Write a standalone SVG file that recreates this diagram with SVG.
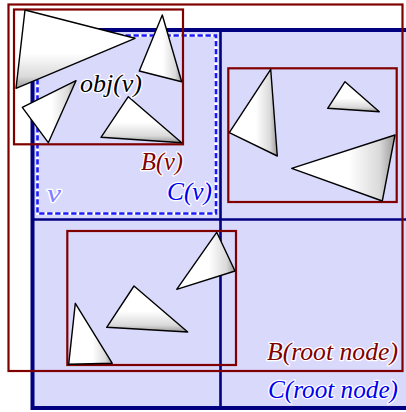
<svg xmlns="http://www.w3.org/2000/svg" width="406" height="412" viewBox="0 0 406 412">
<defs>
<linearGradient id="gh" x1="0" y1="0" x2="1" y2="0">
<stop offset="0" stop-color="#ffffff"/><stop offset="0.55" stop-color="#ffffff"/><stop offset="0.85" stop-color="#dadada"/><stop offset="1" stop-color="#999999"/>
</linearGradient>
<linearGradient id="gv" x1="0" y1="0" x2="0" y2="1">
<stop offset="0" stop-color="#ffffff"/><stop offset="0.55" stop-color="#ffffff"/><stop offset="0.85" stop-color="#dadada"/><stop offset="1" stop-color="#999999"/>
</linearGradient>
<style>
.cell{fill:#d9d9fc;stroke:#000080;stroke-width:4}
.grid{stroke:#000080;stroke-width:2.6;fill:none}
.bbox{fill:none;stroke:#800000;stroke-width:2.2}
.tri{stroke:#000;stroke-width:1.4;stroke-linejoin:round}
.th{fill:url(#gh)}
.tv{fill:url(#gv)}
.lbl{font-family:"Liberation Serif","Times New Roman",serif;font-style:italic;font-size:25px;paint-order:stroke;stroke:#fff;stroke-width:2.6;stroke-linejoin:round}
</style>
</defs>
<rect width="406" height="412" fill="#fff"/>
<g id="root-cell">
<rect class="cell" x="32.5" y="30" width="390" height="378"/>
<line class="grid" x1="220.5" y1="30" x2="220.5" y2="408"/>
<line class="grid" x1="32" y1="219.5" x2="406" y2="219.5"/>
</g>
<g id="cell-v">
<rect x="37.5" y="35.5" width="178.5" height="178" fill="none" stroke="#fff" stroke-width="3"/>
<rect x="37.5" y="35.5" width="178.5" height="178" fill="none" stroke="#1a1aff" stroke-width="2.6" stroke-dasharray="5.3 2.7"/>
</g>
<g id="bbox-root"><rect class="bbox" x="8.5" y="4.5" width="394" height="366.5"/></g>
<g id="bbox-v"><rect class="bbox" x="14" y="9.5" width="169" height="134.8"/></g>
<g id="bbox-tr"><rect class="bbox" x="228.3" y="68.3" width="168.4" height="133.7"/></g>
<g id="bbox-bl"><rect class="bbox" x="67.3" y="231" width="168.7" height="134"/></g>
<g id="objects">
<polygon class="tri tv" points="25,10 135,38.3 16,88.3"/>
<polygon class="tri th" points="162.3,15 139.3,71 181.7,81.7"/>
<polygon class="tri th" points="76,80.7 22.3,107.3 48.3,142.7"/>
<polygon class="tri tv" points="128.3,96.7 101,137.3 181.7,142.7"/>
<polygon class="tri th" points="270.7,69.3 229.3,132.7 277.3,156"/>
<polygon class="tri tv" points="345,81.7 327.7,108.3 379.3,111.7"/>
<polygon class="tri th" points="395,135 291.7,168.3 382.3,201"/>
<polygon class="tri th" points="75.3,303.3 68.7,364.3 112.3,363.3"/>
<polygon class="tri tv" points="134,286 106.7,327.3 187.7,332"/>
<polygon class="tri th" points="216.7,232.3 176.7,289.3 235,271"/>
</g>
<g id="labels">
<text class="lbl" x="80" y="91.5" fill="#000" textLength="62" lengthAdjust="spacingAndGlyphs">obj(ν)</text>
<text class="lbl" x="141" y="170" fill="#800000" textLength="42" lengthAdjust="spacingAndGlyphs">B(ν)</text>
<text class="lbl" x="167" y="200" fill="#0000f0" textLength="45" lengthAdjust="spacingAndGlyphs">C(ν)</text>
<text class="lbl" x="47" y="202" fill="#8080ff" textLength="14" lengthAdjust="spacingAndGlyphs" stroke="none">ν</text>
<text class="lbl" x="267" y="360" fill="#800000" textLength="131" lengthAdjust="spacingAndGlyphs">B(root node)</text>
<text class="lbl" x="268" y="398" fill="#0000f0" textLength="130" lengthAdjust="spacingAndGlyphs">C(root node)</text>
</g>
<g id="connectors"/>
</svg>
